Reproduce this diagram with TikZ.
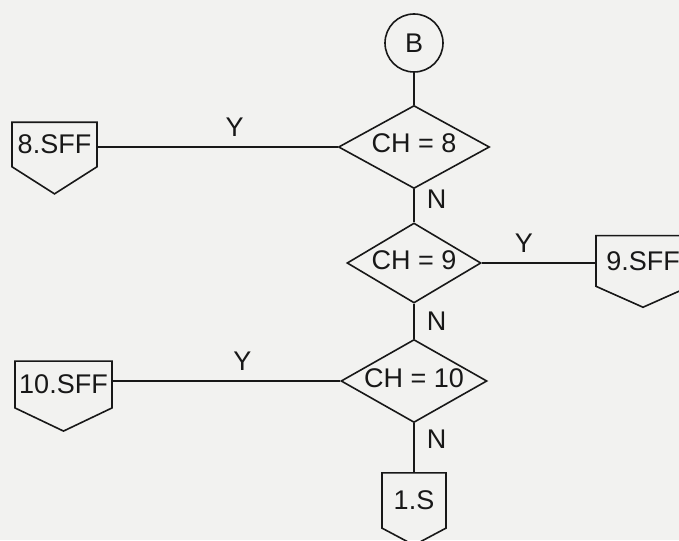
\documentclass[tikz,border=0pt]{standalone}
\usepackage{fontspec}
\setmainfont{Liberation Sans}
\usepackage{tikz}
\usetikzlibrary{positioning, shapes.geometric, shapes.symbols}
\definecolor{paper}{RGB}{242,242,240}
\definecolor{ink}{RGB}{24,24,24}

\tikzset{
  every node/.style={font=\fontsize{27}{32}\selectfont},
  decision/.style={diamond, draw, inner sep=0pt, shape aspect=1.8,
    text height=12pt, text depth=0pt, minimum width=#1},
  offpage/.style={signal, signal to=south, signal from=nowhere, draw, inner sep=0pt},
  joint/.style={circle, draw, minimum size=58pt, inner sep=0pt},
  lbl/.style={inner sep=0pt}
}

\begin{document}
\begin{tikzpicture}[x=1pt, y=-1pt, line width=1.6pt, color=ink]
\fill[paper] (0,0) rectangle (679,540);
\useasboundingbox (0,0) rectangle (679,540);
\clip (0,0) rectangle (679,540);

% --- connector and tests ---
\node[joint] (b) at (414,43) {B};
\node[decision=151pt, minimum height=83pt] (ch8) at (414,147) {CH = 8};
\node[decision=134pt, minimum height=80pt] (ch9) at (414,263) {CH = 9};
\node[decision=146pt, minimum height=83pt] (ch10) at (414,381) {CH = 10};

% --- off page connectors ---
\node[offpage, minimum width=85pt, minimum height=68pt, signal pointer angle=115] (sff8) at (54.5,144.5) {8.SFF};
\node[offpage, minimum width=94pt, minimum height=67pt, signal pointer angle=132] (sff9) at (643,261) {9.SFF};
\node[offpage, minimum width=97pt, minimum height=68pt, signal pointer angle=129] (sff10) at (63.5,384.5) {10.SFF};
\node[offpage, minimum width=64pt, minimum height=66pt, signal pointer angle=124] (s1) at (414,500.5) {1.S};

% --- flow lines ---
\draw (b) -- (ch8);
\draw (ch8.west) -- node[lbl, above=10pt, pos=0.43] (y8) {Y} (sff8.east |- ch8.west);
\draw (ch8.south) -- node[lbl, right=12pt, pos=0.3] (n8) {N} (ch9.north);
\draw (ch9.east) -- node[lbl, above=10pt, pos=0.37] (y9) {Y} (sff9.west |- ch9.east);
\draw (ch9.south) -- node[lbl, right=12pt, pos=0.5] (n9) {N} (ch10.north);
\draw (ch10.west) -- node[lbl, above=10pt, pos=0.43] (y10) {Y} (sff10.east |- ch10.west);
\draw (ch10.south) -- node[lbl, right=12pt, pos=0.32] (n10) {N} (s1.north);
\end{tikzpicture}
\end{document}
